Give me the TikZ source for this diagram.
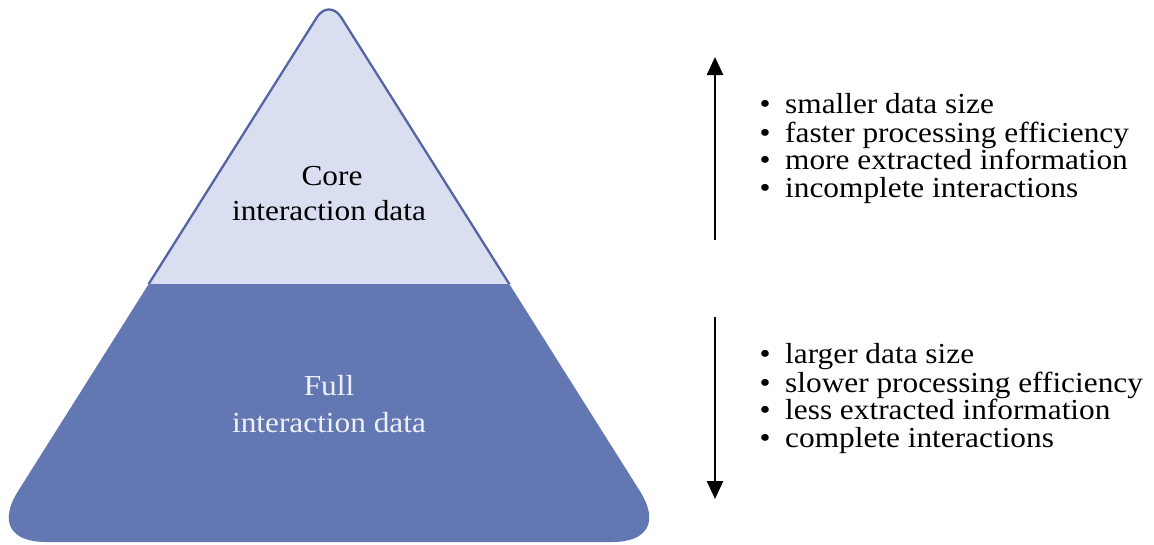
\documentclass[tikz,border=0pt]{standalone}
\usepackage{fontspec}
\setmainfont[FakeStretch=1.08]{Liberation Serif}
\usetikzlibrary{arrows.meta}
\definecolor{lightfill}{HTML}{D9DFF1}
\definecolor{darkfill}{HTML}{6377B3}
\definecolor{edgeblue}{HTML}{5565A4}
\definecolor{lighttext}{HTML}{EEF0F8}
\tikzset{
  lbl/.style={font=\fontsize{29}{35}\selectfont, inner sep=0pt, anchor=base},
  item/.style={font=\fontsize{29}{35}\selectfont, inner sep=0pt, anchor=base west},
  dot/.style={font=\fontsize{29}{35}\selectfont, inner sep=0pt, anchor=base},
  trend/.style={line width=2.6pt, -{Triangle[width=16pt,length=18pt]}},
}
\begin{document}
\begin{tikzpicture}[x=1pt,y=-1pt]
\useasboundingbox (0,0) rectangle (1154,544);
\def\pyr{(46,542) -- (612,542) .. controls (648,542) and (659.2,521.7) .. (640,491.25)
  -- (340.8,16.8) .. controls (334.3,7) and (323.7,7) .. (317.2,16.8)
  -- (18,491.25) .. controls (-1.2,521.7) and (10,542) .. (46,542) -- cycle}
\fill[darkfill] \pyr;
\begin{scope}
  \clip (-20,-20) rectangle (700,283);
  \fill[lightfill] \pyr;
  \draw[edgeblue, line width=2.3pt] \pyr;
\end{scope}
% pyramid labels
\node[lbl] (core1) at (332,185) {Core};
\node[lbl] (core2) at (329,220) {interaction data};
\node[lbl, text=lighttext] (full1) at (329,395) {Full};
\node[lbl, text=lighttext] (full2) at (329,432) {interaction data};
% arrows
\coordinate (u0) at (715,240);
\coordinate (u1) at (715,57);
\coordinate (d0) at (715,317);
\coordinate (d1) at (715,499);
\draw[trend] (u0) -- (u1);
\draw[trend] (d0) -- (d1);
% top list
\node[dot] (b1) at (765,113) {•};
\node[item] (t1) at (785,113) {smaller data size};
\node[dot] (b2) at (765,142) {•};
\node[item] (t2) at (785,142) {faster processing efficiency};
\node[dot] (b3) at (765,169) {•};
\node[item] (t3) at (785,169) {more extracted information};
\node[dot] (b4) at (765,197) {•};
\node[item] (t4) at (785,197) {incomplete interactions};
% bottom list
\node[dot] (b5) at (765,363) {•};
\node[item] (t5) at (785,363) {larger data size};
\node[dot] (b6) at (765,392) {•};
\node[item] (t6) at (785,392) {slower processing efficiency};
\node[dot] (b7) at (765,419) {•};
\node[item] (t7) at (785,419) {less extracted information};
\node[dot] (b8) at (765,447) {•};
\node[item] (t8) at (785,447) {complete interactions};
\end{tikzpicture}
\end{document}
